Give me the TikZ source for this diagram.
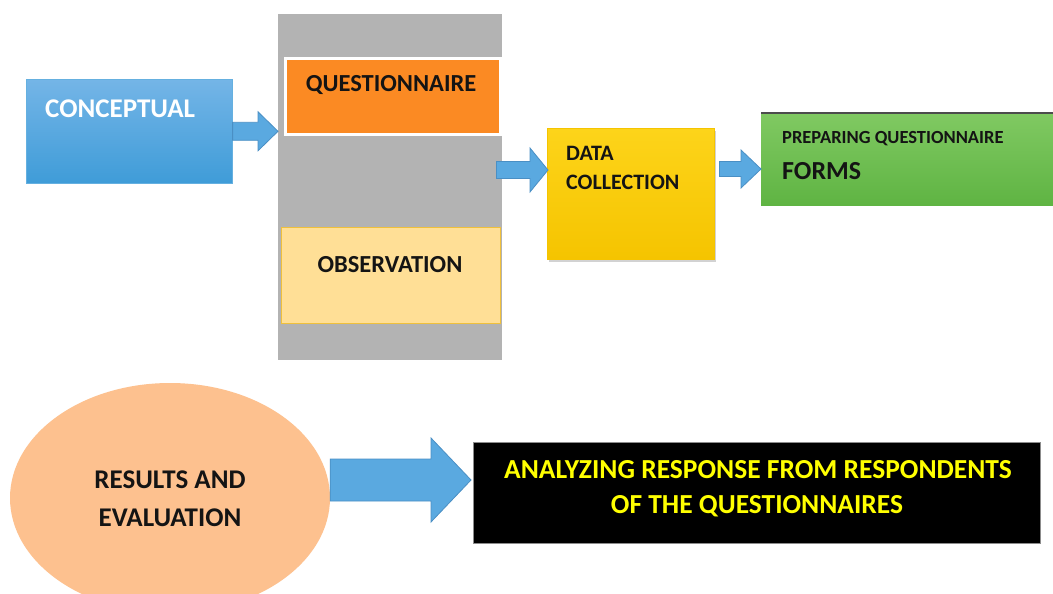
\documentclass[tikz,border=0pt]{standalone}
\usepackage{fontspec}
\setmainfont{Carlito}
\usetikzlibrary{calc,shadows,shapes.geometric}

\definecolor{txtdark}{HTML}{141414}
\definecolor{blueTop}{HTML}{74B5E7}
\definecolor{blueBot}{HTML}{3F9CD8}
\definecolor{panelgray}{HTML}{B3B3B3}
\definecolor{qorange}{HTML}{FB8A23}
\definecolor{obsfill}{HTML}{FFDF96}
\definecolor{obsline}{HTML}{EFC03C}
\definecolor{yelTop}{HTML}{FDD41A}
\definecolor{yelBot}{HTML}{F5C400}
\definecolor{grnTop}{HTML}{80C962}
\definecolor{grnBot}{HTML}{5FB443}
\definecolor{peach}{HTML}{FDC18F}
\definecolor{arrowblue}{HTML}{5AA9E0}
\definecolor{arrowline}{HTML}{4A8FC4}
\definecolor{labelyellow}{HTML}{FFFF00}

% horizontal block arrow: start, tip, body half-height, head half-height, head length
\newcommand\blockarrow[5]{%
  \draw[blockarr] let \p1=(#1), \p2=(#2) in
    (\x1,\y1-#3) -- (\x2-#5,\y1-#3) -- (\x2-#5,\y1-#4) -- (\x2,\y1)
    -- (\x2-#5,\y1+#4) -- (\x2-#5,\y1+#3) -- (\x1,\y1+#3) -- cycle;}

\tikzset{
  box/.style={rectangle, inner sep=0pt, anchor=north west},
  txt/.style={font=\bfseries\fontsize{#1}{#1}\selectfont, text=txtdark, inner sep=0pt},
  blockarr/.style={fill=arrowblue, draw=arrowline, line width=0.8pt, line join=miter},
}

\begin{document}
\begin{tikzpicture}[x=1pt,y=-1pt]
  \fill[white] (0,0) rectangle (1053,594);
  \useasboundingbox (0,0) rectangle (1053,594);

  % first row
  \node[box, top color=blueTop, bottom color=blueBot, draw=blueBot!80!white, line width=0.6pt,
        minimum width=206pt, minimum height=104pt] (concept) at (26,79) {};
  \node[txt=27, text=white, anchor=west] (tconcept) at (45,109) {CONCEPTUAL};

  \node[box, fill=panelgray, minimum width=224pt, minimum height=346pt] (panel) at (278,14) {};

  \node[box, fill=qorange, draw=white, line width=3pt,
        minimum width=215pt, minimum height=76pt] (quest) at (284,57) {};
  \node[txt=24.5] (tquest) at (391,85) {QUESTIONNAIRE};

  \node[box, fill=obsfill, draw=obsline, line width=1pt,
        minimum width=219pt, minimum height=96pt] (obs) at (281,227) {};
  \node[txt=24.5] (tobs) at (390,265) {OBSERVATION};

  \node[box, top color=yelTop, bottom color=yelBot, draw=yelBot, line width=0.5pt,
        drop shadow={shadow xshift=2pt, shadow yshift=-3pt, opacity=0.35},
        minimum width=167pt, minimum height=131pt] (data) at (547,128) {};
  \node[txt=22, anchor=west] (tdata1) at (566,153) {DATA};
  \node[txt=22, anchor=west] (tdata2) at (566,182) {COLLECTION};

  \node[box, top color=grnTop, bottom color=grnBot, minimum width=292pt, minimum height=92pt]
        (forms) at (761,113) {};
  \draw[black!70, line width=1.2pt] (forms.north west) -- (forms.north east);
  \node[txt=18.5, anchor=west] (tforms1) at (782,139) {PREPARING QUESTIONNAIRE};
  \node[txt=26, anchor=west] (tforms2) at (782,171) {FORMS};

  % second row
  \node[ellipse, fill=peach, inner sep=0pt, minimum width=320pt, minimum height=230pt]
        (results) at (170,498) {};
  \node[txt=27] (tres1) at (170,480) {RESULTS AND};
  \node[txt=27] (tres2) at (170,518) {EVALUATION};

  \node[box, fill=black, draw=black!45, line width=1pt,
        minimum width=567pt, minimum height=101pt] (analysis) at (473,442) {};
  \node[txt=27.5, text=labelyellow] (tan1) at (758,470) {ANALYZING RESPONSE FROM RESPONDENTS};
  \node[txt=27.5, text=labelyellow] (tan2) at (757,506) {OF THE QUESTIONNAIRES};

  % connectors
  \coordinate (a1s) at (concept.east);
  \coordinate (a1e) at (panel.west |- a1s);
  \blockarrow{a1s}{a1e}{9pt}{19.5pt}{20pt}

  \coordinate (a2s) at ($(panel.east |- 0,170)+(-6,0)$);
  \coordinate (a2e) at ($(data.west |- a2s)+(1,0)$);
  \blockarrow{a2s}{a2e}{8.5pt}{22pt}{18pt}

  \coordinate (a3s) at ($(data.east |- 0,169)+(5,0)$);
  \coordinate (a3e) at (forms.west |- a3s);
  \blockarrow{a3s}{a3e}{7.5pt}{19pt}{20pt}

  \coordinate (a4s) at (results.east |- 0,480);
  \coordinate (a4e) at ($(analysis.west |- a4s)+(-2,0)$);
  \blockarrow{a4s}{a4e}{21pt}{42pt}{40pt}
\end{tikzpicture}
\end{document}
